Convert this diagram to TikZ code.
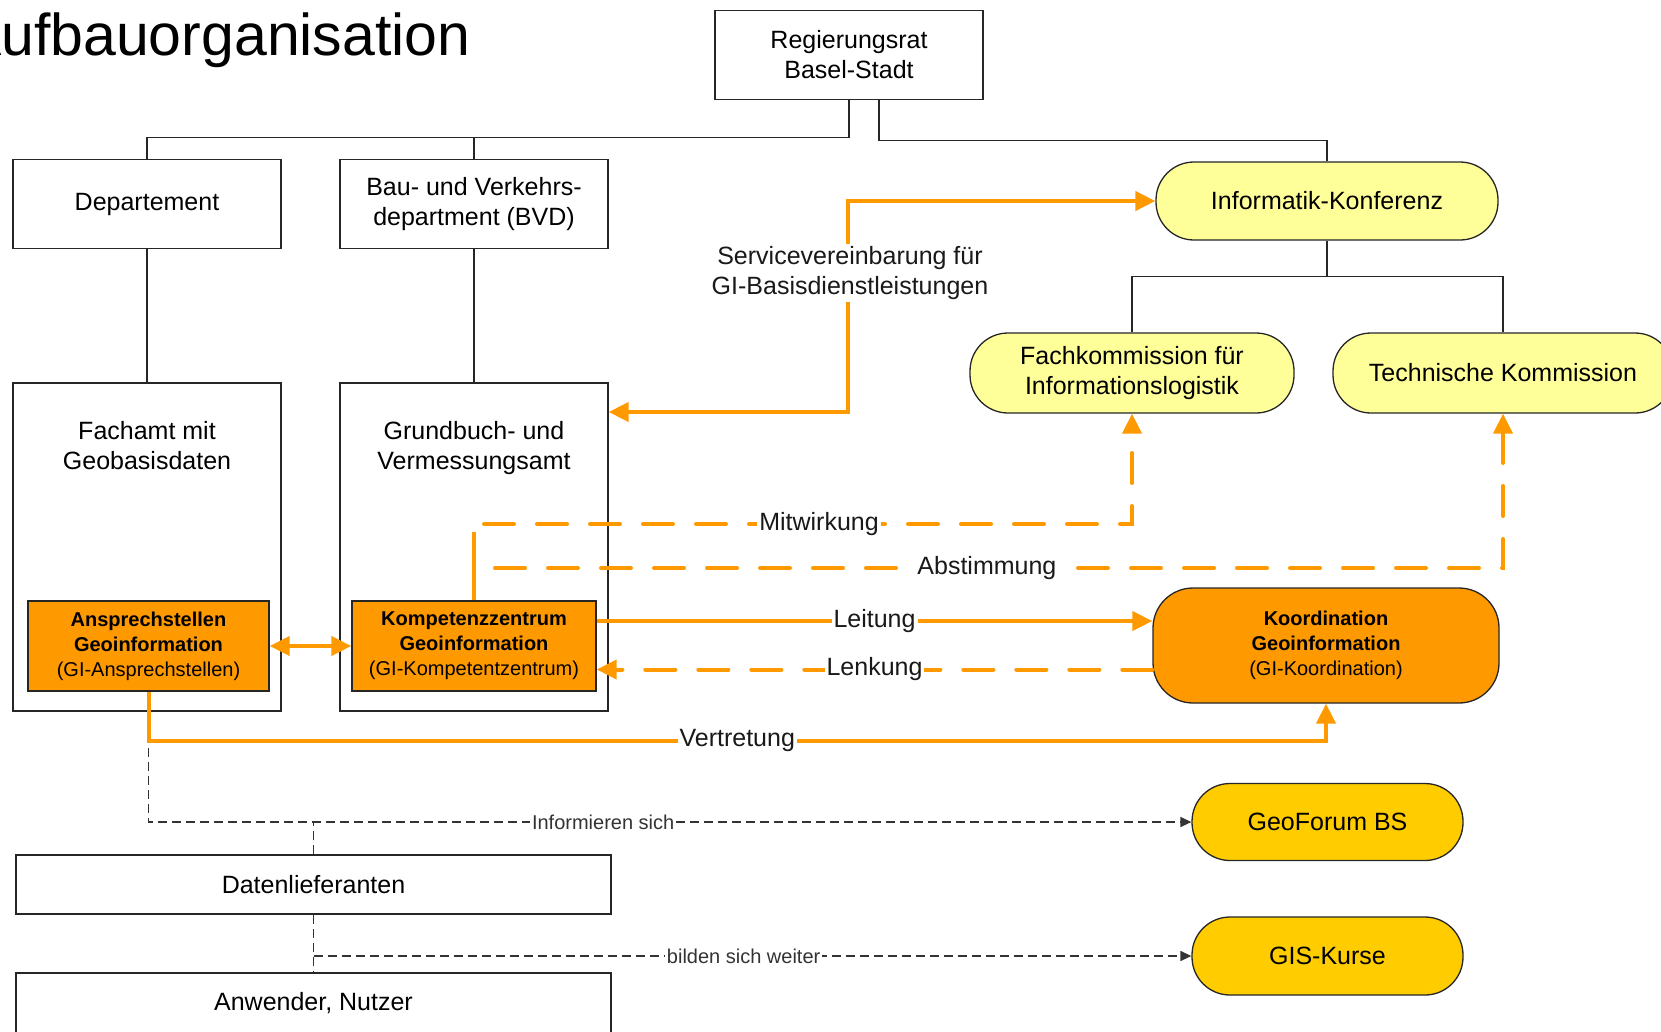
\documentclass[tikz,border=0pt]{standalone}
\usepackage{fontspec}
\setmainfont{Liberation Sans}
\usetikzlibrary{arrows.meta,positioning}
\definecolor{gio}{HTML}{FF9900}
\definecolor{giy}{HTML}{FFFF99}
\definecolor{gig}{HTML}{FFCC00}

\begin{document}
\begin{tikzpicture}[x=1pt,y=-1pt,
  orgbox/.style={draw=black!85,line width=1.3pt,minimum width=268pt,minimum height=89pt,inner sep=0pt,align=center,font=\fontsize{25}{30}\selectfont},
  gibox/.style={draw=black!85,line width=1.3pt,fill=gio,inner sep=0pt,align=center,font=\fontsize{20}{25}\selectfont},
  pill/.style={draw=black!85,line width=1.3pt,rounded corners=38pt,inner sep=0pt,align=center,font=\fontsize{25}{30}\selectfont},
  txt/.style={inner sep=0pt,align=center,font=\fontsize{25}{30}\selectfont},
  orgline/.style={black!85,line width=1.3pt},
  oline/.style={gio,line width=4pt,>={Triangle[length=20pt,width=19pt]}},
  odash/.style={oline,line cap=round,dash pattern=on 30pt off 23pt},
  bdash/.style={black!80,line width=1.5pt,dash pattern=on 9pt off 5pt,>={Triangle[length=11pt,width=10pt]}},
  lbl/.style={fill=white,inner sep=2pt,text=black!90,font=\fontsize{25}{30}\selectfont},
  slbl/.style={fill=white,inner sep=2pt,text=black!80,font=\fontsize{20}{24}\selectfont}]
  \useasboundingbox (0,0) rectangle (1661,1031);
  \node[anchor=base east,font=\fontsize{59}{60}\selectfont] (title) at (474,55) {Aufbauorganisation};

  \node[orgbox] (rr) at (849,55) {Regierungsrat\\Basel-Stadt};
  \node[orgbox] (dep) at (147,204) {Departement};
  \node[orgbox] (bvd) at (474,204) {Bau- und Verkehrs-\\department (BVD)};
  \node[orgbox,minimum height=328pt] (fa) at (147,547) {};
  \node[orgbox,minimum height=328pt] (gva) at (474,547) {};
  \node[txt,below=39pt of fa.north] (fatxt) {Fachamt mit\\Geobasisdaten};
  \node[txt,below=39pt of gva.north] (gvatxt) {Grundbuch- und\\Vermessungsamt};
  \node[gibox,minimum width=241pt,minimum height=90pt] (as) at (148.5,646) {\textbf{Ansprechstellen}\\\textbf{Geoinformation}\\(GI-Ansprechstellen)};
  \node[gibox,minimum width=244pt,minimum height=90pt] (kz) at (474,646) {\textbf{Kompetenzzentrum}\\\textbf{Geoinformation}\\(GI-Kompetentzentrum)};
  \node[gibox,rounded corners=40pt,minimum width=346pt,minimum height=115pt] (ko) at (1326,645.5) {\textbf{Koordination}\\\textbf{Geoinformation}\\(GI-Koordination)};

  \node[pill,fill=giy,minimum width=342pt,minimum height=78pt] (ik) at (1327,201) {Informatik-Konferenz};
  \node[pill,fill=giy,minimum width=324pt,minimum height=80pt] (fk) at (1132,373) {Fachkommission für\\Informationslogistik};
  \node[pill,fill=giy,minimum width=340pt,minimum height=80pt] (tk) at (1503,373) {Technische Kommission};
  \node[pill,fill=gig,minimum width=271pt,minimum height=77pt] (gf) at (1327.5,822) {GeoForum BS};
  \node[pill,fill=gig,minimum width=271pt,minimum height=78pt] (gis) at (1327.5,956) {GIS-Kurse};

  \node[orgbox,minimum width=595pt,minimum height=59pt] (dl) at (313.5,884.5) {Datenlieferanten};
  \node[orgbox,minimum width=595pt,minimum height=60pt] (an) at (313.5,1003) {Anwender, Nutzer};

  \draw[orgline] (rr.south) -- ++(0,37) -| (dep.north);
  \draw[orgline] (bvd.north) -- ++(0,-22);
  \draw[orgline] ([xshift=30pt]rr.south) -- ++(0,40) -| (ik.north);
  \draw[orgline] (ik.south) -- ++(0,36) -| (fk.north);
  \draw[orgline] (ik.south) ++(0,36) -| (tk.north);
  \draw[orgline] (dep.south) -- (fa.north);
  \draw[orgline] (bvd.south) -- (gva.north);

  \draw[bdash,->] (as.south) |- node[slbl,pos=0.718] (linf) {Informieren sich} (gf.west);
  \draw[bdash] (dl.north) -- (dl.north |- gf.west);
  \draw[bdash] (dl.south) -- (an.north);
  \draw[bdash,->] (dl.south |- gis.west) -- node[slbl,pos=0.49] (lbild) {bilden sich weiter} (gis.west);

  \draw[oline,<->] (as.east) -- (kz.west);
  \draw[oline,->] ([yshift=25pt]kz.east) -- node[lbl] (lleit) {Leitung} ([yshift=25pt]kz.east -| ko.west);
  \draw[odash,->] ([yshift=-24pt]ko.west) -- node[lbl] (llenk) {Lenkung} ([yshift=-24pt]ko.west -| kz.east);
  \draw[oline,->] (as.south) -- ++(0,49) -| node[lbl,pos=0.25] (lvert) {Vertretung} (ko.south);
  \draw[oline] (kz.north) -- ++(0,-68);
  \coordinate (mw) at (484,524);
  \coordinate (ab) at (495,568);
  \draw[odash,->] (mw) -| node[lbl,pos=0.2585] (lmitw) {Mitwirkung} (fk.south);
  \draw[odash,->] (ab) -| node[lbl,pos=0.244] (labst) {Abstimmung} (tk.south);
  \coordinate (sv) at (848,412);
  \draw[oline,<->] (ik.west) -| (sv) -- (sv -| gva.east);
  \node[lbl,align=center] (svlbl) at (850,273) {Servicevereinbarung für\\GI-Basisdienstleistungen};
\end{tikzpicture}
\end{document}
